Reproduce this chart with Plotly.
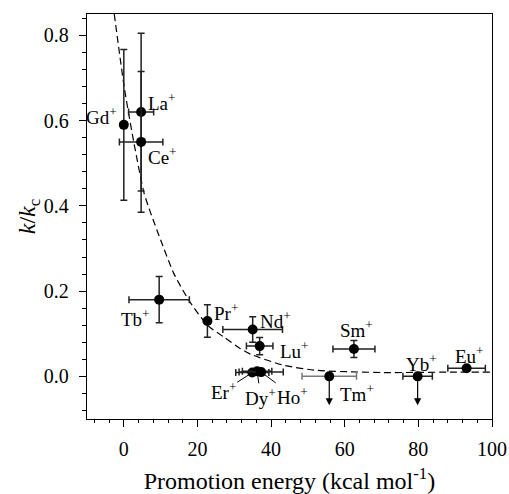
import plotly.graph_objects as go

# ---------------- data ----------------
ions = ["Gd", "La", "Ce", "Tb", "Pr", "Nd", "Lu", "Er", "Dy", "Ho", "Tm", "Sm", "Yb", "Eu"]
energy = [0.0, 4.7, 4.7, 9.6, 22.7, 35.0, 36.9, 34.9, 36.2, 37.3, 55.8, 62.5, 79.8, 93.1]
energy_err = [0.0, 3.4, 5.9, 8.2, 0.0, 8.1, 3.6, 4.5, 4.0, 6.0, 7.4, 5.7, 4.0, 5.1]
ratio = [0.59, 0.62, 0.55, 0.18, 0.13, 0.11, 0.071, 0.009, 0.012, 0.010, 0.0, 0.064, 0.0, 0.019]
ratio_err = [0.177, 0.185, 0.165, 0.054, 0.038, 0.030, 0.020, 0.0, 0.0, 0.0, 0.0, 0.020, 0.0, 0.0]
upper_limit = ["Tm", "Yb"]
upper_limit_to = [-0.068, -0.068]

fit_x = [-2.6, 0.1, 2.8, 5.5, 7.3, 10.0, 13.6, 17.7, 22.7, 27.2, 31.7, 34.4, 43.4, 52.5, 70.5, 88.6, 100.0]
fit_y = [0.85, 0.679, 0.545, 0.43, 0.383, 0.32, 0.241, 0.178, 0.12, 0.092, 0.065, 0.052, 0.026, 0.014, 0.009, 0.010, 0.010]

x_ticks = [0, 20, 40, 60, 80, 100]
y_ticks = [0.0, 0.2, 0.4, 0.6, 0.8]

# ---------------- styling ----------------
SERIF = "Liberation Serif"
err_color = {"Tm": "#7a7a7a"}
# label placement: (xanchor, xshift px, yshift px)
label_pos = {
    "Gd": ("right", -5, 9),
    "La": ("left", 5, 10),
    "Ce": ("left", 5, -14),
    "Tb": ("right", -7, -18),
    "Pr": ("left", 5, 9),
    "Nd": ("left", 5, 9),
    "Lu": ("left", 18, -4),
    "Sm": ("center", 3, 20),
    "Tm": ("left", 9, -17),
    "Yb": ("center", 4, 13),
    "Eu": ("center", 3, 13),
}
# labels with leader lines: text position (data coords)
leader_text = {"Er": (27.0, -0.035), "Dy": (37.2, -0.048), "Ho": (45.9, -0.045)}

fig = go.Figure()

fig.add_trace(go.Scatter(
    x=fit_x, y=fit_y, mode="lines",
    line=dict(color="black", width=1.2, dash="7px,4px", shape="spline", smoothing=0.6),
    hoverinfo="skip", showlegend=False))

for i, ion in enumerate(ions):
    col = err_color.get(ion, "#222222")
    fig.add_trace(go.Scatter(
        x=[energy[i]], y=[ratio[i]], mode="markers",
        marker=dict(color="black", size=10),
        error_x=dict(type="data", array=[energy_err[i]], visible=energy_err[i] > 0,
                     color=col, thickness=1.5, width=3.5),
        error_y=dict(type="data", array=[ratio_err[i]], visible=ratio_err[i] > 0,
                     color="#222222", thickness=1.5, width=3.5),
        showlegend=False, name=ion))

lab_font = dict(family=SERIF, size=19, color="black")
annotations = []
for i, ion in enumerate(ions):
    text = f"{ion}<sup>+</sup>"
    if ion in label_pos:
        xa, xs, ys = label_pos[ion]
        annotations.append(dict(x=energy[i], y=ratio[i], xref="x", yref="y", text=text, showarrow=False,
                                xanchor=xa, yanchor="middle", xshift=xs, yshift=ys, font=lab_font))
    elif ion in leader_text:
        tx, ty = leader_text[ion]
        annotations.append(dict(x=energy[i], y=ratio[i], xref="x", yref="y", ax=tx, ay=ty,
                                axref="x", ayref="y", text=text, showarrow=True, arrowhead=0,
                                arrowwidth=1, arrowcolor="black", standoff=3, font=lab_font))

for ion, yto in zip(upper_limit, upper_limit_to):
    i = ions.index(ion)
    annotations.append(dict(x=energy[i], y=yto, xref="x", yref="y", ax=energy[i], ay=ratio[i],
                            axref="x", ayref="y", text="", showarrow=True, arrowhead=2,
                            arrowsize=1.2, arrowwidth=1.2, arrowcolor="black"))

fig.update_layout(
    width=509, height=494,
    margin=dict(l=87, r=17, t=14, b=75),
    paper_bgcolor="white", plot_bgcolor="white",
    font=dict(family=SERIF, size=20, color="black"),
    annotations=annotations,
    xaxis=dict(range=[-10, 100], tickvals=x_ticks, ticktext=[str(v) for v in x_ticks],
               automargin=False,
               showgrid=False, zeroline=False, showline=True, linecolor="black", linewidth=1.3,
               mirror=True, ticks="outside", ticklen=7, tickwidth=1.2, tickcolor="black",
               ticklabelstandoff=5,
               minor=dict(dtick=4, tick0=0, ticks="outside", ticklen=3, tickwidth=1, tickcolor="black", showgrid=False),
               tickfont=dict(family=SERIF, size=20, color="black"),
               title=dict(text="Promotion energy (kcal mol<sup>-1</sup>)",
                          font=dict(family=SERIF, size=24, color="black"), standoff=15)),
    yaxis=dict(range=[-0.1, 0.85], tickvals=y_ticks, ticktext=[f"{v:.1f}" for v in y_ticks],
               automargin=False,
               showgrid=False, zeroline=False, showline=True, linecolor="black", linewidth=1.3,
               mirror=True, ticks="outside", ticklen=7, tickwidth=1.2, tickcolor="black",
               ticklabelstandoff=6,
               minor=dict(dtick=0.04, tick0=0, ticks="outside", ticklen=4, tickwidth=1, tickcolor="black", showgrid=False),
               tickfont=dict(family=SERIF, size=20, color="black"),
               title=dict(text="<i>k</i>/<i>k</i><sub>c</sub>",
                          font=dict(family=SERIF, size=24, color="black"), standoff=0)),
)

fig.write_html("out.html", config={"displayModeBar": False},
               post_script="document.body.style.margin='0';document.body.style.overflow='hidden';")
